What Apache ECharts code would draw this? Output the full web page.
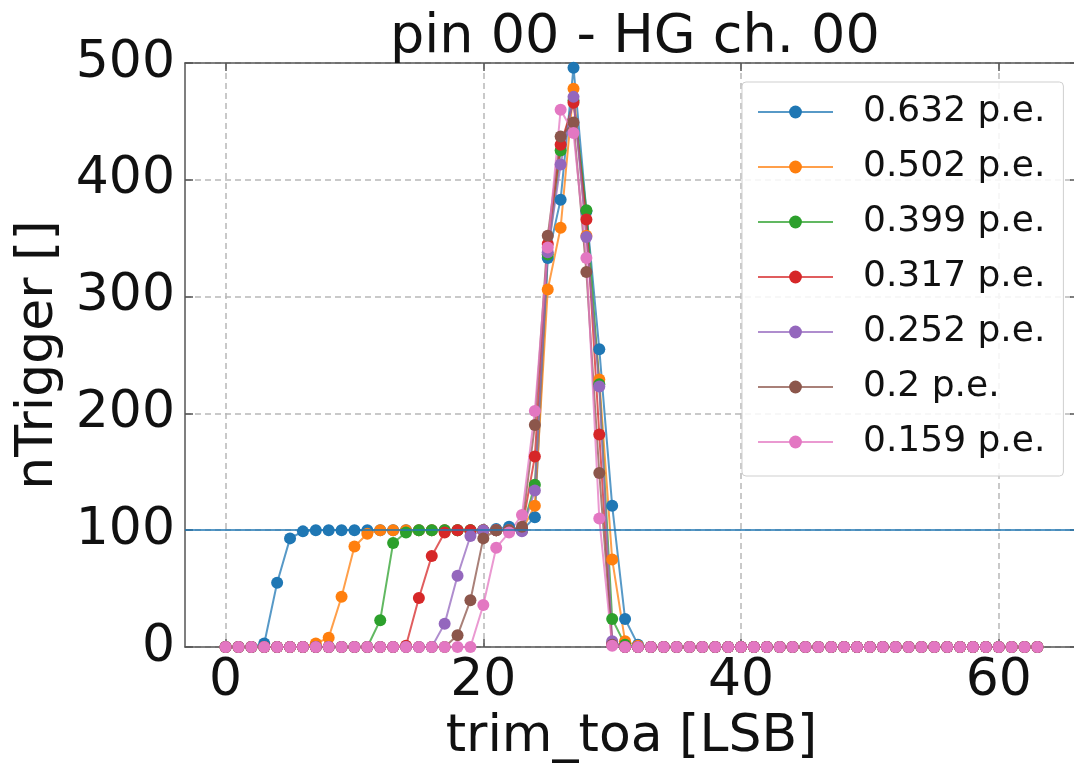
<!DOCTYPE html>
<html lang="en">
<head>
    <meta charset="UTF-8">
    <title>pin 00 - HG ch. 00</title>
    <script src="https://cdn.jsdelivr.net/npm/echarts@6/dist/echarts.min.js"></script>
    <style>
        html, body { margin: 0; padding: 0; background: #fff; }
        #main { width: 1074px; height: 763px; }
    </style>
</head>
<body>
<div id="main"></div>
<script>
    // nTrigger vs trim_toa, one value per trim_toa step (0..63)
    let pe0632 = [0,0,0,3,55,93,99,100,100,100, 100,100,100,100,100,100,100,100,100,100,
        100,101,103,100,111,333,383,496,373,255, 121,24,2,0,0,0,0,0,0,0,
        0,0,0,0,0,0,0,0,0,0, 0,0,0,0,0,0,0,0,0,0, 0,0,0,0];
    let pe0502 = [0,0,0,0,0,0,0,3,8,43, 86,97,100,100,100,100,100,100,100,100,
        100,100,100,100,121,306,359,478,352,229, 75,5,1,0,0,0,0,0,0,0,
        0,0,0,0,0,0,0,0,0,0, 0,0,0,0,0,0,0,0,0,0, 0,0,0,0];
    let pe0399 = [0,0,0,0,0,0,0,0,0,0, 0,0,23,89,98,100,100,100,100,100,
        100,100,100,100,139,336,425,468,374,225, 24,2,0,0,0,0,0,0,0,0,
        0,0,0,0,0,0,0,0,0,0, 0,0,0,0,0,0,0,0,0,0, 0,0,0,0];
    let pe0317 = [0,0,0,0,0,0,0,0,0,0, 0,0,0,0,1,42,78,98,100,100,
        100,100,100,101,163,345,430,466,366,182, 3,0,0,0,0,0,0,0,0,0,
        0,0,0,0,0,0,0,0,0,0, 0,0,0,0,0,0,0,0,0,0, 0,0,0,0];
    let pe0252 = [0,0,0,0,0,0,0,0,0,0, 0,0,0,0,0,0,0,20,61,95,
        100,100,100,99,134,338,413,471,351,223, 5,0,0,0,0,0,0,0,0,0,
        0,0,0,0,0,0,0,0,0,0, 0,0,0,0,0,0,0,0,0,0, 0,0,0,0];
    let pe0200 = [0,0,0,0,0,0,0,0,0,0, 0,0,0,0,0,0,0,0,10,40,
        93,100,100,103,190,352,437,449,321,149, 2,0,0,0,0,0,0,0,0,0,
        0,0,0,0,0,0,0,0,0,0, 0,0,0,0,0,0,0,0,0,0, 0,0,0,0];
    let pe0159 = [0,0,0,0,0,0,0,0,0,0, 0,0,0,0,0,0,0,0,0,0,
        36,85,98,113,202,342,460,440,333,110, 1,0,0,0,0,0,0,0,0,0,
        0,0,0,0,0,0,0,0,0,0, 0,0,0,0,0,0,0,0,0,0, 0,0,0,0];

    let seriesNames = ['0.632 p.e.', '0.502 p.e.', '0.399 p.e.', '0.317 p.e.', '0.252 p.e.', '0.2 p.e.', '0.159 p.e.'];
    let seriesValues = [pe0632, pe0502, pe0399, pe0317, pe0252, pe0200, pe0159];
    let colors = ['#1f77b4', '#ff7f0e', '#2ca02c', '#d62728', '#9467bd', '#8c564b', '#e377c2'];

    let xTicks = [0, 20, 40, 60];
    let threshold = 100;

    let font = 'DejaVu Sans';
    let myChart = echarts.init(document.getElementById('main'));

    let series = seriesNames.map(function (name, k) {
        let s = {
            name: name,
            type: 'line',
            data: seriesValues[k].map(function (v, i) { return [i, v]; }),
            symbol: 'circle',
            symbolSize: 12,
            lineStyle: { width: 2, opacity: 0.75, color: colors[k] },
            itemStyle: { color: colors[k] },
            emphasis: { disabled: true }
        };
        if (k === seriesNames.length - 1) {
            s.markLine = {
                silent: true,
                symbol: ['none', 'none'],
                label: { show: false },
                lineStyle: { color: '#1f77b4', width: 1.5, type: 'solid' },
                data: [{ yAxis: threshold }]
            };
        }
        return s;
    });

    let spine = { show: true, onZero: false, lineStyle: { color: '#555', width: 1.5 } };
    let tick = { show: true, inside: true, length: 8, lineStyle: { color: '#555', width: 1.5 } };
    let grid = { show: true, lineStyle: { color: '#b8b8b8', width: 1.5, type: [6, 4] } };

    let option = {
        animation: false,
        color: colors,
        title: {
            text: 'pin 00 - HG ch. 00',
            left: 385,
            top: 6,
            textStyle: { fontFamily: font, fontSize: 54, fontWeight: 'normal', color: '#111' }
        },
        legend: {
            orient: 'vertical',
            left: 742,
            top: 82,
            padding: [10, 18, 14, 15],
            itemWidth: 75,
            itemHeight: 16,
            itemGap: 15,
            backgroundColor: 'rgba(255,255,255,0.85)',
            borderColor: '#cfcfcf',
            borderWidth: 1,
            borderRadius: 4,
            textStyle: { fontFamily: font, fontSize: 36, color: '#111', lineHeight: 40, padding: [0, 0, 0, 25] },
            data: seriesNames
        },
        grid: { left: 185, top: 63, right: -4, bottom: 116, outerBoundsMode: 'none' },
        xAxis: [{
            type: 'value',
            min: -3.15,
            max: 66.15,
            name: 'trim_toa [LSB]',
            nameLocation: 'middle',
            nameGap: 46,
            nameTextStyle: { fontFamily: font, fontSize: 52, color: '#111' },
            axisLine: spine,
            axisTick: Object.assign({ customValues: xTicks }, tick),
            axisLabel: { customValues: xTicks, margin: 8, fontFamily: font, fontSize: 52, color: '#111' },
            splitLine: grid
        }, {
            type: 'value',
            position: 'top',
            min: -3.15,
            max: 66.15,
            axisLine: spine,
            axisTick: Object.assign({ customValues: xTicks }, tick),
            axisLabel: { show: false, customValues: xTicks },
            splitLine: { show: false }
        }],
        yAxis: [{
            type: 'value',
            min: 0,
            max: 500,
            interval: 100,
            name: 'nTrigger []',
            nameLocation: 'middle',
            nameGap: 103,
            nameTextStyle: { fontFamily: font, fontSize: 52, color: '#111' },
            axisLine: spine,
            axisTick: tick,
            axisLabel: { margin: 10, fontFamily: font, fontSize: 52, color: '#111' },
            splitLine: grid
        }, {
            type: 'value',
            position: 'right',
            min: 0,
            max: 500,
            interval: 100,
            axisLine: spine,
            axisTick: tick,
            axisLabel: { show: false },
            splitLine: { show: false }
        }],
        series: series
    };
    myChart.setOption(option);
</script>
</body>
</html>
